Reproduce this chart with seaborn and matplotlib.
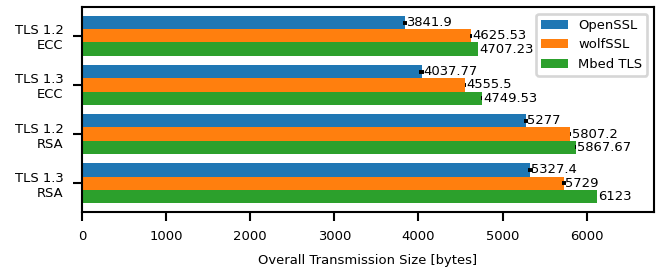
import numpy as np
import pandas as pd
import matplotlib
matplotlib.use("Agg")
import matplotlib.pyplot as plt
import seaborn as sns

# data
configs = ["TLS 1.2\nECC", "TLS 1.3\nECC", "TLS 1.2\nRSA", "TLS 1.3\nRSA"]
libraries = ["OpenSSL", "wolfSSL", "Mbed TLS"]

openssl = [3841.9, 4037.77, 5277, 5327.4]
wolfssl = [4625.53, 4555.5, 5807.2, 5729]
mbedtls = [4707.23, 4749.53, 5867.67, 6123]

# standard deviations (estimated from the small error marks)
openssl_sd = [25, 30, 25, 30]
wolfssl_sd = [10, 5, 10, 25]
mbedtls_sd = [5, 10, 5, 5]

label_text = {
    "OpenSSL": ["3841.9", "4037.77", "5277", "5327.4"],
    "wolfSSL": ["4625.53", "4555.5", "5807.2", "5729"],
    "Mbed TLS": ["4707.23", "4749.53", "5867.67", "6123"],
}

df = pd.DataFrame({
    "config": configs * 3,
    "library": np.repeat(libraries, len(configs)),
    "size": openssl + wolfssl + mbedtls,
    "sd": openssl_sd + wolfssl_sd + mbedtls_sd,
})

# small paper-column figure, plain matplotlib look
plt.rcParams["font.family"] = ["DejaVu Sans"]
plt.rcParams["font.size"] = 5

DPI = 659 / 3.5
fig, ax = plt.subplots(figsize=(3.5, 272 / DPI), dpi=DPI)
fig.subplots_adjust(left=0.1244, right=0.9924, top=0.9743, bottom=0.2206)

sns.barplot(data=df, y="config", x="size", hue="library", orient="h",
            palette=["#1f77b4", "#ff7f0e", "#2ca02c"], errorbar=None,
            width=0.8, saturation=1, ax=ax)

for lib, cont in zip(libraries, ax.containers):
    sub = df[df["library"] == lib]
    ys = [p.get_y() + p.get_height() / 2 for p in cont.patches]
    ax.errorbar(sub["size"].values, ys, xerr=sub["sd"].values, fmt="none",
                ecolor="black", elinewidth=1.5, capsize=0, zorder=3)
    ax.bar_label(cont, labels=label_text[lib], padding=0.5)

ax.set_xlim(0, 6800)
ax.set_ylim(3.59, -0.59)
ax.set_ylabel("")
ax.set_xlabel("Overall Transmission Size [bytes]")
ax.legend(loc="upper right")

fig.savefig("out.png", dpi=DPI)
